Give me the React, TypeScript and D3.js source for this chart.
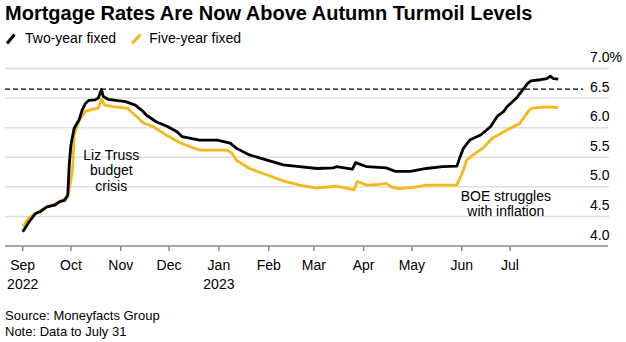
import React from "react";
import * as d3 from "d3";

const twoYearDates = [
  "2022-09-01","2022-09-05","2022-09-09","2022-09-12","2022-09-16","2022-09-21","2022-09-24","2022-09-27","2022-09-29","2022-09-30",
  "2022-10-01","2022-10-03","2022-10-06","2022-10-08","2022-10-10","2022-10-12","2022-10-16","2022-10-18","2022-10-20","2022-10-21",
  "2022-10-24","2022-10-29","2022-11-04","2022-11-10","2022-11-15","2022-11-17","2022-11-23","2022-11-30","2022-12-06","2022-12-09",
  "2022-12-20","2022-12-31","2023-01-08","2023-01-12","2023-01-20","2023-01-31","2023-02-10","2023-02-20","2023-03-03","2023-03-13",
  "2023-03-15","2023-03-25","2023-03-27","2023-04-03","2023-04-15","2023-04-21","2023-04-30","2023-05-10","2023-05-20","2023-05-29",
  "2023-05-31","2023-06-02","2023-06-06","2023-06-13","2023-06-19","2023-06-23","2023-06-27","2023-06-29","2023-07-05","2023-07-12",
  "2023-07-14","2023-07-20","2023-07-24","2023-07-26","2023-07-28","2023-07-31"
];
const twoYearValues = [
  4.24,4.41,4.55,4.58,4.66,4.69,4.75,4.77,4.86,5.40,
  5.71,5.99,6.13,6.30,6.41,6.46,6.47,6.50,6.65,6.53,
  6.48,6.46,6.44,6.38,6.27,6.21,6.10,6.02,5.93,5.85,
  5.79,5.79,5.74,5.65,5.54,5.45,5.37,5.34,5.31,5.32,
  5.34,5.30,5.41,5.34,5.32,5.26,5.26,5.31,5.34,5.35,
  5.51,5.65,5.79,5.88,6.02,6.19,6.27,6.35,6.50,6.75,
  6.79,6.81,6.83,6.87,6.83,6.82
];

const fiveYearDates = [
  "2022-09-01","2022-09-05","2022-09-09","2022-09-16","2022-09-24","2022-09-29","2022-10-01","2022-10-02","2022-10-03","2022-10-06",
  "2022-10-10","2022-10-13","2022-10-18","2022-10-20","2022-10-22","2022-10-28","2022-11-05","2022-11-12","2022-11-15","2022-11-21",
  "2022-11-29","2022-12-08","2022-12-15","2022-12-20","2023-01-06","2023-01-09","2023-01-12","2023-01-20","2023-01-31","2023-02-10",
  "2023-02-20","2023-03-03","2023-03-15","2023-03-26","2023-03-28","2023-04-03","2023-04-11","2023-04-15","2023-04-18","2023-04-23",
  "2023-05-02","2023-05-10","2023-05-20","2023-05-29","2023-06-02","2023-06-04","2023-06-08","2023-06-14","2023-06-20","2023-06-29",
  "2023-07-07","2023-07-13","2023-07-15","2023-07-24","2023-07-31"
];
const fiveYearValues = [
  4.33,4.48,4.55,4.66,4.75,4.83,5.12,5.30,5.88,6.12,
  6.28,6.30,6.33,6.48,6.38,6.35,6.33,6.16,6.08,6.02,
  5.88,5.74,5.67,5.62,5.62,5.57,5.45,5.31,5.20,5.10,
  5.03,4.98,5.01,4.95,5.09,5.03,5.04,5.06,5.00,4.97,
  4.99,5.03,5.03,5.03,5.28,5.45,5.54,5.65,5.82,5.96,
  6.07,6.30,6.33,6.35,6.34
];

const yTicks = [4.0, 4.5, 5.0, 5.5, 6.0, 6.5, 7.0];
const monthTicks = ["2022-09-01","2022-10-01","2022-11-01","2022-12-01","2023-01-01","2023-02-01","2023-03-01","2023-04-01","2023-05-01","2023-06-01","2023-07-01"];
const monthLabels = ["Sep","Oct","Nov","Dec","Jan","Feb","Mar","Apr","May","Jun","Jul"];
const yearLabels: Record<string, string> = { "2022-09-01": "2022", "2023-01-01": "2023" };
const autumnPeak = 6.65;

const parse = d3.timeParse("%Y-%m-%d");
const FONT = "'Liberation Sans', Arial, Helvetica, sans-serif";
const BLACK = "#000000";
const YELLOW = "#f6b818";

export default function App() {
  const x = d3.scaleTime()
    .domain([parse("2022-09-01")!, parse("2023-07-01")!])
    .range([22.7, 510]);
  const y = d3.scaleLinear().domain([4, 7]).range([246, 68.5]);

  const two = twoYearDates.map((d, i) => ({ d: parse(d)!, v: twoYearValues[i] }));
  const five = fiveYearDates.map((d, i) => ({ d: parse(d)!, v: fiveYearValues[i] }));
  const line = d3.line<{ d: Date; v: number }>().x((p) => x(p.d)).y((p) => y(p.v));

  return (
    <div style={{ position: "absolute", left: 0, top: 0 }}>
      <svg width={626} height={342} style={{ display: "block", fontFamily: FONT }}>
        <rect width={626} height={342} fill="#fff" />
        <text x={5} y={19.5} fontSize={20} fontWeight="bold" fill="#000">
          Mortgage Rates Are Now Above Autumn Turmoil Levels
        </text>
        {/* legend */}
        <line x1={7} y1={43.5} x2={14.5} y2={34.5} stroke={BLACK} strokeWidth={3} />
        <text x={25} y={43.3} fontSize={14} fill="#000">Two-year fixed</text>
        <line x1={132} y1={43.5} x2={140.5} y2={34.5} stroke={YELLOW} strokeWidth={3} />
        <text x={149.3} y={43.3} fontSize={14} fill="#000">Five-year fixed</text>

        {/* gridlines */}
        {yTicks.filter((t) => t > 4).map((t) => (
          <line key={t} x1={5} x2={609} y1={y(t)} y2={y(t)} stroke="#e0e0e0" strokeWidth={1.5} />
        ))}
        {yTicks.map((t) => (
          <text key={"l" + t} x={590} y={y(t) - 6.5} fontSize={14} fill="#000">
            {t === 7 ? "7.0%" : d3.format(".1f")(t)}
          </text>
        ))}

        {/* x axis */}
        <line x1={5} x2={608} y1={y(4)} y2={y(4)} stroke="#8a8a8a" strokeWidth={1.5} />
        {monthTicks.map((m, i) => {
          const xx = x(parse(m)!);
          return (
            <g key={m}>
              <line x1={xx} x2={xx} y1={y(4)} y2={y(4) + 5} stroke="#8a8a8a" strokeWidth={1.5} />
              <text x={xx} y={270} fontSize={14} textAnchor="middle" fill="#000">{monthLabels[i]}</text>
              {yearLabels[m] && (
                <text x={xx} y={288.5} fontSize={14} textAnchor="middle" fill="#000">{yearLabels[m]}</text>
              )}
            </g>
          );
        })}

        {/* dashed autumn peak */}
        <line x1={5} x2={583} y1={y(autumnPeak)} y2={y(autumnPeak)} stroke="#000" strokeWidth={1.3} strokeDasharray="5,3" />

        <path d={line(five)!} fill="none" stroke={YELLOW} strokeWidth={2.8} strokeLinejoin="round" />
        <path d={line(two)!} fill="none" stroke={BLACK} strokeWidth={2.8} strokeLinejoin="round" />

        {/* annotations */}
        <g fontSize={14} textAnchor="middle" fill="#000">
          <text x={111.3} y={159.5}>Liz Truss</text>
          <text x={111.3} y={175}>budget</text>
          <text x={111.3} y={190.5}>crisis</text>
          <text x={505.8} y={200.7}>BOE struggles</text>
          <text x={505.8} y={216}>with inflation</text>
        </g>

        {/* footer */}
        <text x={5} y={320} fontSize={13} fill="#000">Source: Moneyfacts Group</text>
        <text x={5} y={336} fontSize={13} fill="#000">Note: Data to July 31</text>
      </svg>
    </div>
  );
}
